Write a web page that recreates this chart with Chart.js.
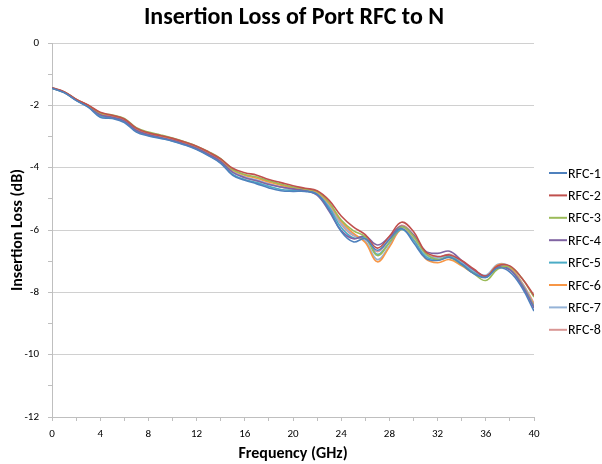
<!DOCTYPE html>
<html><head><meta charset="utf-8">
<script src="https://cdn.jsdelivr.net/npm/chart.js@4.4.1/dist/chart.umd.min.js"></script>
<style>html,body{margin:0;padding:0;background:#fff}#wrap{width:602px;height:464px}</style>
</head><body><div id="wrap"><canvas id="c" width="602" height="464"></canvas></div>
<script>
const freqs = [0,1,2,3,4,5,6,7,8,9,10,11,12,13,14,15,16,17,18,19,20,21,22,23,24,25,26,27,28,29,30,31,32,33,34,35,36,37,38,39,40];
const seriesNames = ["RFC-1","RFC-2","RFC-3","RFC-4","RFC-5","RFC-6","RFC-7","RFC-8"];
const seriesColors = ["#4F81BD","#C0504D","#9BBB59","#8064A2","#4BACC6","#F79646","#95B3D7","#D99694"];
const rfc1 = [-1.45,-1.59,-1.84,-2.06,-2.38,-2.42,-2.55,-2.86,-2.98,-3.06,-3.15,-3.27,-3.42,-3.62,-3.86,-4.25,-4.40,-4.52,-4.65,-4.74,-4.76,-4.76,-4.86,-5.35,-6.05,-6.38,-6.28,-6.65,-6.30,-5.95,-6.40,-6.90,-6.98,-6.88,-7.10,-7.40,-7.52,-7.22,-7.35,-7.85,-8.60];
const rfc2 = [-1.44,-1.56,-1.80,-1.99,-2.22,-2.32,-2.44,-2.73,-2.88,-2.97,-3.06,-3.18,-3.31,-3.50,-3.72,-4.02,-4.16,-4.24,-4.38,-4.48,-4.58,-4.66,-4.74,-5.05,-5.55,-5.90,-6.15,-6.58,-6.20,-5.75,-6.05,-6.70,-6.85,-6.80,-6.98,-7.25,-7.48,-7.15,-7.15,-7.55,-8.10];
const rfc3 = [-1.45,-1.57,-1.81,-2.00,-2.24,-2.31,-2.42,-2.72,-2.86,-2.95,-3.05,-3.17,-3.31,-3.49,-3.71,-4.06,-4.22,-4.30,-4.42,-4.53,-4.62,-4.68,-4.76,-5.12,-5.68,-6.02,-6.22,-6.82,-6.40,-5.90,-6.20,-6.75,-6.95,-6.88,-7.12,-7.40,-7.62,-7.25,-7.18,-7.55,-8.15];
const rfc4 = [-1.45,-1.58,-1.83,-2.03,-2.30,-2.38,-2.50,-2.80,-2.94,-3.03,-3.12,-3.24,-3.38,-3.57,-3.80,-4.15,-4.32,-4.42,-4.54,-4.62,-4.68,-4.74,-4.88,-5.40,-6.02,-6.28,-6.20,-6.48,-6.22,-5.88,-6.15,-6.68,-6.75,-6.68,-6.98,-7.28,-7.48,-7.20,-7.28,-7.78,-8.50];
const rfc5 = [-1.45,-1.59,-1.84,-2.05,-2.34,-2.40,-2.53,-2.83,-2.96,-3.05,-3.14,-3.26,-3.40,-3.60,-3.84,-4.22,-4.38,-4.48,-4.60,-4.70,-4.73,-4.74,-4.85,-5.28,-5.92,-6.25,-6.25,-6.78,-6.40,-5.98,-6.32,-6.85,-6.95,-6.85,-7.08,-7.36,-7.52,-7.18,-7.26,-7.75,-8.45];
const rfc6 = [-1.45,-1.57,-1.81,-2.01,-2.26,-2.34,-2.46,-2.76,-2.90,-2.99,-3.08,-3.20,-3.34,-3.52,-3.75,-4.08,-4.24,-4.34,-4.46,-4.56,-4.65,-4.70,-4.80,-5.15,-5.72,-6.10,-6.40,-7.02,-6.55,-5.98,-6.30,-6.92,-7.05,-6.95,-7.15,-7.38,-7.50,-7.12,-7.20,-7.72,-8.40];
const rfc7 = [-1.45,-1.58,-1.82,-2.03,-2.30,-2.37,-2.49,-2.79,-2.93,-3.02,-3.11,-3.23,-3.37,-3.56,-3.79,-4.14,-4.30,-4.40,-4.52,-4.62,-4.69,-4.72,-4.82,-5.18,-5.78,-6.15,-6.35,-6.95,-6.50,-5.92,-6.22,-6.78,-6.90,-6.80,-7.05,-7.30,-7.45,-7.10,-7.18,-7.70,-8.40];
const rfc8 = [-1.44,-1.57,-1.81,-2.01,-2.27,-2.35,-2.47,-2.77,-2.91,-3.00,-3.09,-3.21,-3.35,-3.54,-3.77,-4.12,-4.30,-4.42,-4.52,-4.62,-4.70,-4.73,-4.82,-5.22,-5.82,-6.18,-6.28,-6.70,-6.30,-5.85,-6.18,-6.75,-6.88,-6.78,-7.02,-7.30,-7.48,-7.15,-7.22,-7.68,-8.35];
const seriesValues = [rfc1,rfc2,rfc3,rfc4,rfc5,rfc6,rfc7,rfc8];
const chartTitle = "Insertion Loss of Port RFC to N";
const xTitle = "Frequency (GHz)";
const yTitle = "Insertion Loss (dB)";

const FONT = "Carlito, Calibri, Lato, 'Open Sans', sans-serif";

const datasets = seriesNames.map((n,i)=>({
  label:n,
  data: freqs.map((f,j)=>({x:f,y:seriesValues[i][j]})),
  borderColor: seriesColors[i],
  backgroundColor: seriesColors[i],
  borderWidth: 1.6,
  pointRadius: 0,
  tension: 0.4,
  fill:false
}));

const decor = {
  id:'decor',
  afterDraw(chart){
    const ctx = chart.ctx;
    ctx.save();
    ctx.fillStyle = '#000';
    ctx.font = "bold 24px " + FONT;
    ctx.textAlign='center'; ctx.textBaseline='middle';
    ctx.fillText(chartTitle, 294, 18);
    ctx.font = "14px " + FONT;
    ctx.textAlign='left';
    chart.data.datasets.forEach((d,i)=>{
      const y = 173 + i*22.4;
      ctx.strokeStyle = d.borderColor; ctx.lineWidth = 2;
      ctx.beginPath(); ctx.moveTo(549,y); ctx.lineTo(567,y); ctx.stroke();
      ctx.fillStyle='#000';
      ctx.fillText(d.label, 568, y+1);
    });
    ctx.restore();
  }
};

new Chart(document.getElementById('c'), {
  type:'line',
  data:{datasets},
  plugins:[decor],
  options:{
    responsive:false, animation:false, devicePixelRatio:1,
    layout:{padding:{top:43,right:68,left:0,bottom:0}},
    plugins:{legend:{display:false}, title:{display:false}, tooltip:{enabled:false}},
    scales:{
      x:{type:'linear', min:0, max:40,
        afterFit(s){ s.height = 47; },
        ticks:{stepSize:2, autoSkip:false, maxRotation:0, padding:7, color:'#000', font:{family:FONT,size:11},
          callback:(v)=> (v%4===0? String(v):'')},
        grid:{drawOnChartArea:false, tickLength:4, tickColor:'#BFBFBF'},
        border:{color:'#BFBFBF'},
        title:{display:true, text:xTitle, color:'#000', font:{family:FONT,size:16,weight:'bold'}, padding:{top:0,bottom:0}}
      },
      y:{min:-12, max:0,
        afterFit(s){ s.width = 52; },
        ticks:{stepSize:1, autoSkip:false, padding:9, color:'#000', font:{family:FONT,size:11},
          callback:(v)=> (Math.round(v)%2===0? String(v):'')},
        grid:{tickLength:4, color:(c)=> (c.tick && Math.round(c.tick.value)%2===0 ? '#D0D0D0':'rgba(0,0,0,0)'), tickColor:'#BFBFBF', lineWidth:1},
        border:{color:'#BFBFBF'},
        title:{display:true, text:yTitle, color:'#000', font:{family:FONT,size:16,weight:'bold'}, padding:{top:8,bottom:0}}
      }
    }
  }
});
</script></body></html>
